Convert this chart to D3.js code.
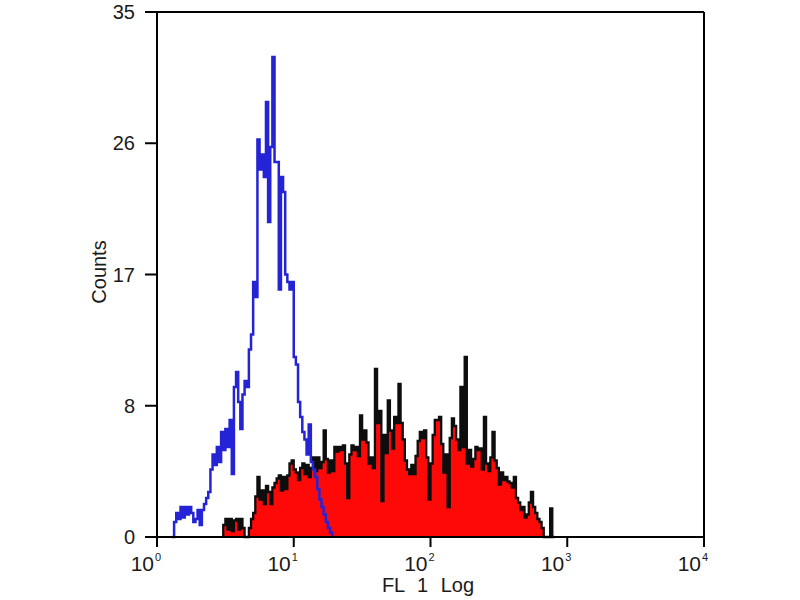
<!DOCTYPE html>
<html>
<head>
<meta charset="utf-8">
<script src="https://cdn.jsdelivr.net/npm/d3@7"></script>
<style>
  body { margin: 0; background: #fff; }
  svg text { font-family: "Liberation Sans", Arial, sans-serif; fill: #1a1a1a; }
</style>
</head>
<body>
<div id="chart"></div>
<script>
// histogram channels: 256 channels over 4 decades
const channelCount = 256;
const decades = [1, 10, 100, 1000, 10000];
const decadeExp = ['0', '1', '2', '3', '4'];
const yTicks = [0, 8.75, 17.5, 26.25, 35];
const yTickLabels = ['0', '8', '17', '26', '35'];

// blue (control) histogram, first channel = 7
const blueStart = 7;
const blueCounts = [
  0, 1.0, 1.6, 1.2, 2.0, 1.3, 2.0, 1.5, 2.0, 1.6,
  1.0, 1.2, 1.8, 0.8, 1.8, 2.2, 2.6, 3.0, 4.5, 5.5,
  4.8, 6.0, 5.0, 7.0, 5.8, 7.2, 6.0, 7.8, 4.2, 10.0,
  11.0, 9.0, 7.2, 9.5, 10.4, 10.0, 12.5, 13.5, 17.0, 16.0,
  26.5, 24.5, 25.5, 24.0, 29.0, 21.0, 26.0, 32.0, 25.0, 25.0,
  16.5, 24.0, 23.0, 17.5, 17.0, 16.5, 17.0, 12.0, 11.5, 9.0,
  8.0, 7.0, 6.5, 5.5, 7.5, 5.0, 4.5, 4.0, 3.2, 2.5,
  2.0, 1.5, 1.0, 0.6, 0.3
];

// red (stained) histogram, first channel = 31
const redStart = 31;
const redCounts = [
  0.8, 1.2, 0.5, 1.2, 0.4, 1.1, 1.2, 0.5, 1.2, 0.6,
  0, 0, 0.6, 1.2, 1.6, 2.7, 4.0, 2.5, 3.1, 2.2,
  3.4, 3.0, 2.2, 3.3, 3.6, 3.9, 4.1, 3.1, 4.0, 3.2,
  4.1, 4.9, 5.1, 4.5, 4.3, 3.8, 4.6, 4.9, 4.2, 4.8,
  4.0, 4.6, 5.3, 4.4, 5.3, 4.6, 5.0, 7.1, 5.2, 4.3,
  5.1, 4.4, 6.0, 5.7, 6.0, 5.8, 6.1, 4.9, 2.6, 5.5,
  6.1, 5.8, 6.0, 5.4, 8.1, 6.5, 7.1, 6.3, 4.9, 5.3,
  4.6, 11.2, 7.6, 8.4, 2.4, 6.8, 5.6, 9.1, 7.1, 5.9,
  8.0, 7.6, 10.2, 7.6, 6.5, 5.1, 4.5, 4.2, 4.8, 4.2,
  5.4, 6.4, 7.0, 6.6, 7.1, 5.3, 2.5, 4.9, 6.8, 7.8,
  7.8, 8.0, 6.2, 4.3, 5.5, 2.0, 6.6, 7.9, 7.4, 6.5,
  5.8, 10.0, 6.0, 12.0, 4.9, 5.8, 4.7, 5.2, 6.0, 5.8,
  5.9, 4.5, 8.0, 4.9, 4.4, 5.3, 7.0, 5.1, 4.6, 3.5,
  4.3, 3.8, 4.0, 3.7, 3.6, 3.3, 4.0, 2.6, 2.3, 1.8,
  2.0, 1.3, 1.5, 2.3, 3.0, 2.0, 1.6, 1.2, 1.0, 0.6,
  0, 0, 0, 1.9, 0
];

const width = 800;
const height = 600;
const margin = { top: 12, right: 96, bottom: 63, left: 157 };

const svg = d3.select('#chart')
  .append('svg')
  .attr('width', width)
  .attr('height', height);

const x = d3.scaleLog()
  .domain([1, 10000])
  .range([margin.left, width - margin.right]);

const y = d3.scaleLinear()
  .domain([0, 35])
  .range([height - margin.bottom, margin.top]);

const chanToValue = ch => Math.pow(10, ch * 4 / channelCount);

// turn counts into step points (vertical edges at both ends)
function toPoints(start, counts) {
  const pts = [{ ch: start, v: 0 }];
  counts.forEach((v, i) => pts.push({ ch: start + i, v: v }));
  pts.push({ ch: start + counts.length, v: 0 });
  return pts;
}

const redPts = toPoints(redStart, redCounts);
const bluePts = toPoints(blueStart, blueCounts);

const area = d3.area()
  .curve(d3.curveStepAfter)
  .x(d => x(chanToValue(d.ch)))
  .y0(y(0))
  .y1(d => y(d.v));

const line = d3.line()
  .curve(d3.curveStepAfter)
  .x(d => x(chanToValue(d.ch)))
  .y(d => y(d.v));

// red filled histogram with black outline
svg.append('path')
  .datum(redPts)
  .attr('d', area)
  .attr('fill', '#ff0808');

svg.append('path')
  .datum(redPts)
  .attr('d', line)
  .attr('fill', 'none')
  .attr('stroke', '#0d0d0d')
  .attr('stroke-width', 2.3);

// blue open histogram
svg.append('path')
  .datum(bluePts)
  .attr('d', line)
  .attr('fill', 'none')
  .attr('stroke', '#2424d6')
  .attr('stroke-width', 2.5);

// frame
const x0 = x.range()[0], x1 = x.range()[1];
const yb = y(0), yt = y(35);
const frame = svg.append('g')
  .attr('stroke', '#000')
  .attr('stroke-width', 2)
  .attr('fill', 'none');

frame.append('line').attr('x1', x0).attr('x2', x0).attr('y1', yt).attr('y2', yb);
frame.append('line').attr('x1', x0).attr('x2', x1).attr('y1', yt).attr('y2', yt);
frame.append('line').attr('x1', x1).attr('x2', x1).attr('y1', yt).attr('y2', yb);
frame.append('line').attr('x1', x0).attr('x2', x1).attr('y1', yb).attr('y2', yb);

// y ticks
const yAxis = svg.append('g');
yTicks.forEach((t, i) => {
  yAxis.append('line')
    .attr('x1', x0 - 12).attr('x2', x0)
    .attr('y1', y(t)).attr('y2', y(t))
    .attr('stroke', '#000').attr('stroke-width', 2);
  yAxis.append('text')
    .attr('x', x0 - 22)
    .attr('y', y(t) + 7)
    .attr('text-anchor', 'end')
    .style('font-size', '20px')
    .text(yTickLabels[i]);
});

// x ticks (decades)
const xAxis = svg.append('g');
decades.forEach((d, i) => {
  const px = x(d);
  xAxis.append('line')
    .attr('x1', px).attr('x2', px)
    .attr('y1', yb).attr('y2', yb + 10)
    .attr('stroke', '#000').attr('stroke-width', 2);
  xAxis.append('text')
    .attr('x', px - 3)
    .attr('y', yb + 34)
    .attr('text-anchor', 'end')
    .style('font-size', '21px')
    .text('10');
  xAxis.append('text')
    .attr('x', px - 2)
    .attr('y', yb + 24)
    .attr('text-anchor', 'start')
    .style('font-size', '11px')
    .text(decadeExp[i]);
});

// axis titles
svg.append('text')
  .attr('x', 428)
  .attr('y', 592)
  .attr('text-anchor', 'middle')
  .style('font-size', '20px')
  .style('word-spacing', '7px')
  .text('FL 1 Log');

svg.append('text')
  .attr('transform', 'translate(106,272) rotate(-90)')
  .attr('text-anchor', 'middle')
  .style('font-size', '20px')
  .text('Counts');
</script>
</body>
</html>
